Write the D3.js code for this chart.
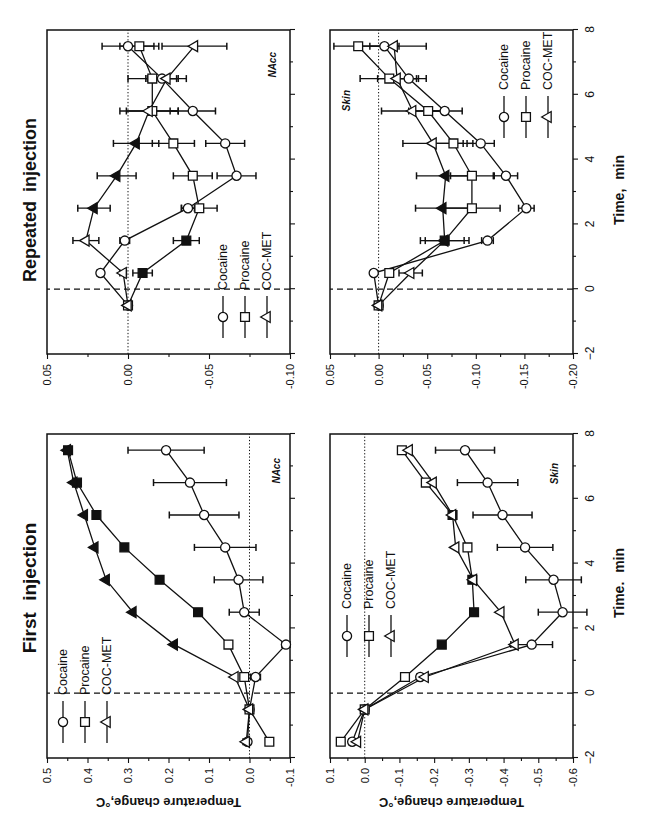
<!DOCTYPE html>
<html>
<head>
<meta charset="utf-8">
<script src="https://cdn.jsdelivr.net/npm/d3@7"></script>
<style>
  body { margin: 0; background: #fff; }
  text { font-family: "Liberation Sans", Arial, Helvetica, sans-serif; fill: #111; }
</style>
</head>
<body>
<script>
// time points, min
var timeFirst = [ -1.5, -0.5, 0.5, 1.5, 2.5, 3.5, 4.5, 5.5, 6.5, 7.5 ];
var timeRepeated = [ -0.5, 0.5, 1.5, 2.5, 3.5, 4.5, 5.5, 6.5, 7.5 ];
var timeTicks = [ -2, 0, 2, 4, 6, 8 ];

var seriesNames = [ 'Cocaine', 'Procaine', 'COC-MET' ];

// First injection, NAcc
var firstNaccCocaine = [ 0.005, 0.0, -0.015, -0.09, 0.013, 0.027, 0.06, 0.112, 0.147, 0.206 ];
var firstNaccCocaineErr = [ 0.008, 0, 0.012, 0.01, 0.037, 0.06, 0.076, 0.086, 0.09, 0.094 ];
var firstNaccProcaine = [ -0.049, 0.0, 0.013, 0.052, 0.127, 0.222, 0.309, 0.378, 0.426, 0.448 ];
var firstNaccProcaineErr = [ 0, 0, 0, 0, 0, 0, 0, 0, 0, 0 ];
var firstNaccMet = [ 0.008, 0.0, 0.036, 0.186, 0.288, 0.354, 0.382, 0.408, 0.434, 0.45 ];
var firstNaccMetErr = [ 0.008, 0, 0, 0, 0, 0, 0, 0, 0, 0 ];
var firstNaccProcaineFilled = [ 2.5, 3.5, 4.5, 5.5, 6.5, 7.5 ];
var firstNaccMetFilled = [ 1.5, 2.5, 3.5, 4.5, 5.5, 6.5, 7.5 ];
var firstNaccTicks = [ 0.5, 0.4, 0.3, 0.2, 0.1, 0.0, -0.1 ];

// First injection, Skin
var firstSkinCocaine = [ 0.036, 0.0, -0.16, -0.481, -0.57, -0.544, -0.462, -0.397, -0.354, -0.289 ];
var firstSkinCocaineErr = [ 0.01, 0, 0.01, 0.06, 0.07, 0.08, 0.08, 0.085, 0.087, 0.085 ];
var firstSkinProcaine = [ 0.069, 0.0, -0.116, -0.222, -0.315, -0.31, -0.296, -0.253, -0.176, -0.107 ];
var firstSkinProcaineErr = [ 0, 0, 0, 0, 0, 0, 0, 0, 0, 0 ];
var firstSkinMet = [ 0.021, 0.0, -0.174, -0.433, -0.392, -0.313, -0.262, -0.253, -0.197, -0.128 ];
var firstSkinMetErr = [ 0, 0, 0, 0, 0, 0, 0, 0, 0, 0 ];
var firstSkinProcaineFilled = [ 1.5, 2.5, 3.5, 5.5 ];
var firstSkinMetFilled = [];
var firstSkinTicks = [ 0.1, 0.0, -0.1, -0.2, -0.3, -0.4, -0.5, -0.6 ];

// Repeated injection, NAcc
var repNaccCocaine = [ 0, 0.017, 0.002, -0.037, -0.067, -0.06, -0.04, -0.021, 0.0 ];
var repNaccCocaineErr = [ 0, 0.002, 0.003, 0.004, 0.012, 0.012, 0.014, 0.01, 0.016 ];
var repNaccProcaine = [ 0, -0.009, -0.036, -0.044, -0.04, -0.028, -0.015, -0.015, -0.007 ];
var repNaccProcaineErr = [ 0, 0.006, 0.008, 0.011, 0.012, 0.013, 0.016, 0.015, 0.012 ];
var repNaccMet = [ 0, 0.003, 0.026, 0.021, 0.007, -0.005, -0.013, -0.024, -0.041 ];
var repNaccMetErr = [ 0, 0.002, 0.008, 0.01, 0.012, 0.014, 0.018, 0.012, 0.02 ];
var repNaccProcaineFilled = [ 0.5, 1.5 ];
var repNaccMetFilled = [ 2.5, 3.5, 4.5 ];
var repNaccTicks = [ 0.05, 0.0, -0.05, -0.1 ];

// Repeated injection, Skin
var repSkinCocaine = [ 0, 0.005, -0.112, -0.152, -0.131, -0.105, -0.068, -0.031, -0.006 ];
var repSkinCocaineErr = [ 0, 0.002, 0.006, 0.008, 0.012, 0.014, 0.018, 0.018, 0.015 ];
var repSkinProcaine = [ 0, -0.011, -0.068, -0.096, -0.096, -0.077, -0.051, -0.011, 0.021 ];
var repSkinProcaineErr = [ 0, 0.003, 0.025, 0.029, 0.022, 0.02, 0.02, 0.03, 0.025 ];
var repSkinMet = [ 0, -0.033, -0.068, -0.066, -0.069, -0.056, -0.035, -0.019, -0.016 ];
var repSkinMetErr = [ 0, 0.012, 0.02, 0.028, 0.03, 0.031, 0.032, 0.02, 0.033 ];
var repSkinProcaineFilled = [ 1.5 ];
var repSkinMetFilled = [ 1.5, 2.5, 3.5 ];
var repSkinTicks = [ 0.05, 0.0, -0.05, -0.1, -0.15, -0.2 ];

var ink = '#111';
var panelW = 324;
var panelH = 243;

var svg = d3.select( 'body' ).append( 'svg' )
  .attr( 'width', 655 )
  .attr( 'height', 828 );

// the scan is turned a quarter turn, so the whole figure is drawn upright and rotated
var fig = svg.append( 'g' )
  .attr( 'transform', 'translate(0,828) rotate(-90)' );

function marker( sel, shape, filled ) {
  var sym = shape === 'circle' ? d3.symbolCircle : ( shape === 'square' ? d3.symbolSquare : d3.symbolTriangle );
  var size = shape === 'circle' ? 66 : ( shape === 'square' ? 78 : 52 );
  return sel.append( 'path' )
    .attr( 'd', d3.symbol().type( sym ).size( size ) )
    .attr( 'fill', filled ? ink : '#fff' )
    .attr( 'stroke', ink )
    .attr( 'stroke-width', 1.3 );
}

function fmtTick( digits ) {
  return function( v ) {
    var s = Math.abs( v ).toFixed( digits );
    return ( v < -1e-9 ? '-' : '' ) + s;
  };
}

function drawPanel( p ) {
  var x = d3.scaleLinear().domain( [ -2, 8 ] ).range( [ p.left, p.left + panelW ] );
  var yMin = d3.min( p.ticks ), yMax = d3.max( p.ticks );
  var y = d3.scaleLinear().domain( [ yMin, yMax ] ).range( [ p.top + panelH, p.top ] );
  var g = fig.append( 'g' );

  // reference lines
  g.append( 'line' )
    .attr( 'x1', x( -2 ) ).attr( 'x2', x( 8 ) )
    .attr( 'y1', y( 0 ) ).attr( 'y2', y( 0 ) )
    .attr( 'stroke', ink ).attr( 'stroke-width', 1 )
    .attr( 'stroke-dasharray', '1.3,2' );
  g.append( 'line' )
    .attr( 'x1', x( 0 ) ).attr( 'x2', x( 0 ) )
    .attr( 'y1', y( yMin ) ).attr( 'y2', y( yMax ) )
    .attr( 'stroke', ink ).attr( 'stroke-width', 1.3 )
    .attr( 'stroke-dasharray', '6,4' );

  // axes
  var minor = [];
  var sorted = p.ticks.slice().sort( d3.ascending );
  for ( var i = 0; i < sorted.length - 1; i++ ) minor.push( ( sorted[ i ] + sorted[ i + 1 ] ) / 2 );

  var yAxis = g.append( 'g' )
    .attr( 'transform', 'translate(' + p.left + ',0)' )
    .call( d3.axisLeft( y ).tickValues( p.ticks ).tickFormat( fmtTick( p.digits ) ).tickSize( 5 ).tickPadding( 5 ).tickSizeOuter( 0 ) );
  g.append( 'g' )
    .attr( 'transform', 'translate(' + p.left + ',0)' )
    .call( d3.axisLeft( y ).tickValues( minor ).tickFormat( '' ).tickSize( 3 ).tickSizeOuter( 0 ) );

  var xAxis = g.append( 'g' )
    .attr( 'transform', 'translate(0,' + ( p.top + panelH ) + ')' )
    .call( d3.axisBottom( x ).tickValues( timeTicks ).tickFormat( p.timeLabels ? d3.format( 'd' ) : '' ).tickSize( 5 ).tickPadding( 7 ).tickSizeOuter( 0 ) );
  g.append( 'g' )
    .attr( 'transform', 'translate(0,' + ( p.top + panelH ) + ')' )
    .call( d3.axisBottom( x ).tickValues( [ -1, 1, 3, 5, 7 ] ).tickFormat( '' ).tickSize( 3 ).tickSizeOuter( 0 ) );

  g.selectAll( '.tick line' ).attr( 'stroke', ink ).attr( 'stroke-width', 1.1 );
  g.selectAll( '.domain' ).attr( 'stroke', 'none' );
  g.selectAll( '.tick text' )
    .attr( 'font-size', 11 )
    .attr( 'fill', ink )
    .style( 'font-family', '"Liberation Sans", Arial, sans-serif' );
  xAxis.selectAll( '.tick text' ).attr( 'font-size', 12 );

  // frame
  g.append( 'rect' )
    .attr( 'x', p.left ).attr( 'y', p.top )
    .attr( 'width', panelW ).attr( 'height', panelH )
    .attr( 'fill', 'none' )
    .attr( 'stroke', ink ).attr( 'stroke-width', 1.5 );

  var line = d3.line()
    .x( function( d ) { return x( d.t ); } )
    .y( function( d ) { return y( d.v ); } );

  var shapes = [ 'circle', 'square', 'triangle' ];
  var rows = p.series.map( function( s, k ) {
    return p.time.map( function( t, j ) {
      return { t: t, v: s.vals[ j ], e: s.errs[ j ], filled: s.filled.indexOf( t ) >= 0, shape: shapes[ k ] };
    } );
  } );

  rows.forEach( function( pts ) {
    g.append( 'path' )
      .datum( pts )
      .attr( 'd', line )
      .attr( 'fill', 'none' )
      .attr( 'stroke', ink )
      .attr( 'stroke-width', 1.3 );
  } );

  rows.forEach( function( pts ) {
    pts.filter( function( d ) { return d.e > 0; } ).forEach( function( d ) {
      var cx = x( d.t );
      g.append( 'line' )
        .attr( 'x1', cx ).attr( 'x2', cx )
        .attr( 'y1', y( d.v - d.e ) ).attr( 'y2', y( d.v + d.e ) )
        .attr( 'stroke', ink ).attr( 'stroke-width', 1.3 );
      [ d.v - d.e, d.v + d.e ].forEach( function( v ) {
        g.append( 'line' )
          .attr( 'x1', cx - 3.5 ).attr( 'x2', cx + 3.5 )
          .attr( 'y1', y( v ) ).attr( 'y2', y( v ) )
          .attr( 'stroke', ink ).attr( 'stroke-width', 1.5 );
      } );
    } );
  } );

  rows.forEach( function( pts ) {
    pts.forEach( function( d ) {
      marker( g, d.shape, d.filled )
        .attr( 'transform', 'translate(' + x( d.t ) + ',' + y( d.v ) + ')' );
    } );
  } );

  // legend
  seriesNames.forEach( function( name, k ) {
    var ly = p.legendY + k * 22;
    g.append( 'line' )
      .attr( 'x1', p.legendX ).attr( 'x2', p.legendX + 42 )
      .attr( 'y1', ly ).attr( 'y2', ly )
      .attr( 'stroke', ink ).attr( 'stroke-width', 1.3 );
    marker( g, shapes[ k ], false )
      .attr( 'transform', 'translate(' + ( p.legendX + 21 ) + ',' + ly + ')' );
    g.append( 'text' )
      .attr( 'x', p.legendX + 48 )
      .attr( 'y', ly )
      .attr( 'dy', '0.35em' )
      .attr( 'font-size', 12.5 )
      .text( name );
  } );

  // region tag
  g.append( 'text' )
    .attr( 'x', p.tagX )
    .attr( 'y', p.tagY )
    .attr( 'text-anchor', 'end' )
    .attr( 'font-size', 10 )
    .attr( 'font-weight', 'bold' )
    .attr( 'font-style', 'italic' )
    .text( p.tag );
}

drawPanel( {
  left: 70, top: 47, ticks: firstNaccTicks, digits: 1, time: timeFirst, timeLabels: false,
  series: [
    { vals: firstNaccCocaine, errs: firstNaccCocaineErr, filled: [] },
    { vals: firstNaccProcaine, errs: firstNaccProcaineErr, filled: firstNaccProcaineFilled },
    { vals: firstNaccMet, errs: firstNaccMetErr, filled: firstNaccMetFilled }
  ],
  legendX: 85, legendY: 63, tag: 'NAcc', tagX: 370, tagY: 280
} );

drawPanel( {
  left: 70, top: 330, ticks: firstSkinTicks, digits: 1, time: timeFirst, timeLabels: true,
  series: [
    { vals: firstSkinCocaine, errs: firstSkinCocaineErr, filled: [] },
    { vals: firstSkinProcaine, errs: firstSkinProcaineErr, filled: firstSkinProcaineFilled },
    { vals: firstSkinMet, errs: firstSkinMetErr, filled: firstSkinMetFilled }
  ],
  legendX: 171, legendY: 347, tag: 'Skin', tagX: 365, tagY: 558
} );

drawPanel( {
  left: 474, top: 47, ticks: repNaccTicks, digits: 2, time: timeRepeated, timeLabels: false,
  series: [
    { vals: repNaccCocaine, errs: repNaccCocaineErr, filled: [] },
    { vals: repNaccProcaine, errs: repNaccProcaineErr, filled: repNaccProcaineFilled },
    { vals: repNaccMet, errs: repNaccMetErr, filled: repNaccMetFilled }
  ],
  legendX: 490, legendY: 223, tag: 'NAcc', tagX: 776, tagY: 276
} );

drawPanel( {
  left: 474, top: 330, ticks: repSkinTicks, digits: 2, time: timeRepeated, timeLabels: true,
  series: [
    { vals: repSkinCocaine, errs: repSkinCocaineErr, filled: [] },
    { vals: repSkinProcaine, errs: repSkinProcaineErr, filled: repSkinProcaineFilled },
    { vals: repSkinMet, errs: repSkinMetErr, filled: repSkinMetFilled }
  ],
  legendX: 690, legendY: 504, tag: 'Skin', tagX: 738, tagY: 350
} );

// column titles
fig.append( 'text' )
  .attr( 'x', 240 ).attr( 'y', 36 )
  .attr( 'text-anchor', 'middle' )
  .attr( 'font-size', 19 )
  .attr( 'font-weight', 'bold' )
  .attr( 'word-spacing', 6 )
  .text( 'First injection' );
fig.append( 'text' )
  .attr( 'x', 628 ).attr( 'y', 36 )
  .attr( 'text-anchor', 'middle' )
  .attr( 'font-size', 18 )
  .attr( 'font-weight', 'bold' )
  .attr( 'word-spacing', 4 )
  .text( 'Repeated injection' );

// time axis titles
[ { x: 245, label: 'Time. min' }, { x: 638, label: 'Time, min' } ].forEach( function( d ) {
  fig.append( 'text' )
    .attr( 'x', d.x ).attr( 'y', 624 )
    .attr( 'text-anchor', 'middle' )
    .attr( 'font-size', 14 )
    .attr( 'font-weight', 'bold' )
    .attr( 'word-spacing', 5 )
    .text( d.label );
} );

// temperature axis titles
[ 47 + panelH / 2, 330 + panelH / 2 ].forEach( function( cy ) {
  fig.append( 'text' )
    .attr( 'transform', 'translate(30,' + cy + ') rotate(-90)' )
    .attr( 'text-anchor', 'middle' )
    .attr( 'font-size', 13 )
    .attr( 'font-weight', 'bold' )
    .text( 'Temperature change,°C' );
} );
</script>
</body>
</html>
